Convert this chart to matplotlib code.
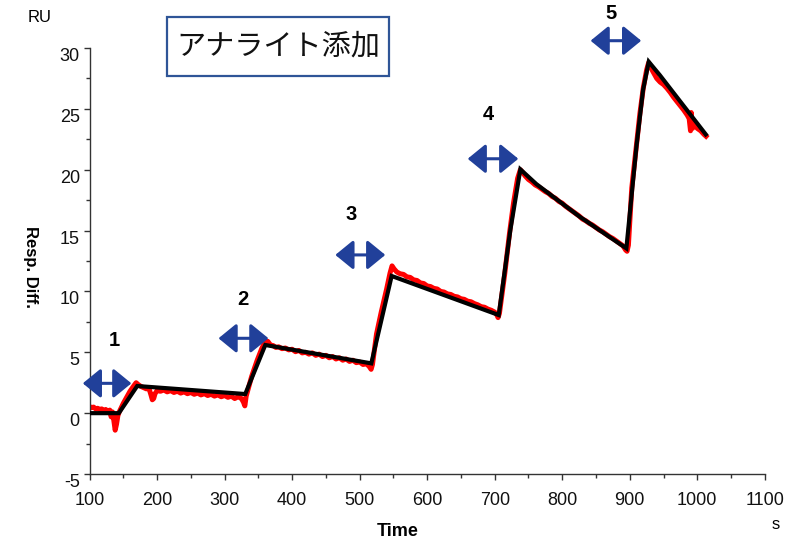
import matplotlib
matplotlib.use("Agg")
import matplotlib.pyplot as plt
from matplotlib.patches import FancyArrowPatch, Rectangle
from matplotlib.ticker import MultipleLocator

plt.rcParams['font.family'] = ['Liberation Sans', 'DejaVu Sans']

# Measured sensorgram (response difference, RU) vs. time (s)
meas_t = [100, 103, 106, 109, 112, 115, 118, 121, 124, 127, 130, 132, 134, 136, 138, 140, 142, 144,
          150, 155, 160, 165, 169, 172, 176, 180, 184, 188, 191, 193, 195, 197, 200, 205, 210, 215,
          220, 225, 230, 235, 240, 245, 250, 255, 260, 265, 270, 275, 280, 285, 290, 295, 300, 305,
          310, 315, 320, 325, 328, 330, 332,
          340, 348, 355, 360, 364, 368, 372, 376, 380, 385, 390, 395, 400, 405, 410, 415, 420, 425,
          430, 435, 440, 445, 450, 455, 460, 465, 470, 475, 480, 485, 490, 495, 500, 505, 510, 514,
          517, 519,
          525, 532, 540, 545, 548, 551, 555, 560, 565, 570, 575, 580, 585, 590, 595, 600, 605, 610,
          615, 620, 625, 630, 635, 640, 645, 650, 655, 660, 665, 670, 675, 680, 685, 690, 695, 700,
          703, 705, 707,
          715, 722, 728, 734, 738, 741, 745, 750, 755, 760, 765, 770, 775, 780, 785, 790, 795, 800,
          805, 810, 815, 820, 825, 830, 835, 840, 845, 850, 855, 860, 865, 870, 875, 880, 885, 890,
          894, 896, 898,
          903, 910, 915, 920, 925, 928, 931, 935, 940, 945, 950, 955, 960, 965, 970, 975, 980, 985,
          988, 990, 991, 993, 995, 1000, 1005, 1010, 1013]
meas_ru = [0.55, 0.45, 0.5, 0.35, 0.4, 0.3, 0.35, 0.2, 0.3, 0.15, 0.25, -0.3, 0.1, -0.6, -1.4, -0.9, -0.2, 0.1,
           0.8, 1.3, 1.8, 2.2, 2.5, 2.35, 2.2, 2.1, 2.0, 2.05, 1.5, 1.1, 1.2, 1.6, 1.85, 1.8, 1.9, 1.75,
           1.85, 1.7, 1.8, 1.65, 1.75, 1.6, 1.7, 1.55, 1.65, 1.5, 1.6, 1.45, 1.55, 1.4, 1.5, 1.35, 1.45, 1.3,
           1.4, 1.2, 1.35, 1.2, 0.9, 0.6, 1.4,
           3.0, 4.3, 5.3, 5.85, 5.9, 5.6, 5.55, 5.4, 5.45, 5.3, 5.35, 5.2, 5.25, 5.05, 5.15, 4.95, 5.0, 4.85,
           4.95, 4.75, 4.85, 4.65, 4.75, 4.55, 4.65, 4.45, 4.55, 4.35, 4.45, 4.25, 4.35, 4.15, 4.2, 4.0, 4.05, 3.85,
           3.6, 4.0,
           6.5, 8.3, 10.2, 11.5, 12.1, 11.85, 11.6, 11.45, 11.4, 11.2, 11.15, 10.95, 10.9, 10.7, 10.65, 10.45, 10.4, 10.25,
           10.2, 10.0, 9.95, 9.8, 9.75, 9.6, 9.55, 9.4, 9.35, 9.2, 9.15, 9.0, 8.9, 8.75, 8.7, 8.55, 8.45, 8.3,
           8.1, 7.85, 8.2,
           11.5, 14.8, 17.3, 19.3, 20.0, 19.8, 19.5, 19.2, 19.0, 18.75, 18.6, 18.4, 18.2, 18.05, 17.8, 17.65, 17.4, 17.25,
           17.0, 16.8, 16.6, 16.4, 16.2, 15.95, 15.8, 15.6, 15.45, 15.25, 15.05, 14.9, 14.7, 14.5, 14.35, 14.15, 13.95, 13.75,
           13.4, 13.3, 13.8,
           18.5, 22.1, 24.6, 26.7, 28.2, 28.8, 28.4, 28.0, 27.5, 27.2, 27.0, 26.7, 26.35, 25.95, 25.6, 25.25, 24.9, 24.5,
           24.2, 23.2, 24.7, 23.4, 23.8, 23.4, 23.2, 22.9, 22.75]

# Fitted kinetic curve
fit_t = [100, 143.4, 170.6, 330.6, 360.3, 517.3, 547.4, 706, 723.2, 738, 761.7, 825.9, 895,
         909.9, 919.7, 928.1, 944.4, 1012.6]
fit_ru = [0.0, 0.0, 2.23, 1.57, 5.6, 4.09, 11.27, 8.06, 15.05, 20.03, 18.82, 16.14, 13.54,
          21.9, 26.55, 28.87, 27.78, 22.9]

# Analyte injections: labels, arrow extents (s) and arrow heights (RU)
inj_labels = ['1', '2', '3', '4', '5']
inj_start = [90, 291, 464, 660, 842]
inj_end = [162, 365, 538, 735, 917]
inj_level = [2.45, 6.15, 13.0, 20.9, 30.6]
label_t = [136, 327, 487, 690, 872]
label_ru = [6.0, 9.3, 16.3, 24.5, 32.8]

xticks = [100, 200, 300, 400, 500, 600, 700, 800, 900, 1000, 1100]
yticks = [-5, 0, 5, 10, 15, 20, 25, 30]

arrow_color = '#21409A'

fig = plt.figure(figsize=(8, 5.4), dpi=100)
ax = fig.add_axes([0.1119, 0.1222, 0.956 - 0.1119, 0.9111 - 0.1222])

ax.plot(meas_t, meas_ru, color='#FF0000', lw=3.6, solid_joinstyle='round', zorder=2)
ax.plot(fit_t, fit_ru, color='black', lw=3.0, solid_joinstyle='miter', zorder=3)

ax.set_xlim(100, 1100)
ax.set_ylim(-5, 30)
ax.set_xticks(xticks)
ax.set_yticks(yticks)
ax.set_xticklabels([str(v) for v in xticks])
ax.set_yticklabels([str(v) for v in yticks])
ax.xaxis.set_minor_locator(MultipleLocator(50))
ax.yaxis.set_minor_locator(MultipleLocator(2.5))

for side in ['top', 'right']:
    ax.spines[side].set_visible(False)
for side in ['left', 'bottom']:
    ax.spines[side].set_color('#333333')
    ax.spines[side].set_linewidth(1.0)

ax.tick_params(axis='both', which='major', length=4, width=1, color='#333333',
               labelsize=13, labelcolor='#111111', direction='out')
ax.tick_params(axis='both', which='minor', length=3, width=1, color='#333333', direction='out')
ax.tick_params(axis='x', which='major', pad=9)
ax.tick_params(axis='y', which='major', pad=3)
for lab in ax.get_yticklabels():
    lab.set_verticalalignment('top')

for x0, x1, y in zip(inj_start, inj_end, inj_level):
    arr = FancyArrowPatch((x0, y), (x1, y),
                          arrowstyle='<|-|>,head_length=11,head_width=9',
                          mutation_scale=1, lw=2.2, color=arrow_color,
                          shrinkA=0, shrinkB=0, clip_on=False, zorder=4)
    ax.add_patch(arr)
for lab, x, y in zip(inj_labels, label_t, label_ru):
    ax.text(x, y, lab, ha='center', va='center', fontsize=14.5, fontweight='bold',
            color='black', clip_on=False)

# Axis titles and units
fig.text(0.4975, 0.015, 'Time', ha='center', va='center', fontsize=13, fontweight='bold')
fig.text(0.0375, 0.505, 'Resp. Diff.', ha='center', va='center', fontsize=12,
         fontweight='bold', rotation=270)
fig.text(0.05, 0.967, 'RU', ha='center', va='center', fontsize=12)
fig.text(0.97, 0.028, 's', ha='center', va='center', fontsize=12)

# Boxed heading
fig.patches.append(Rectangle((0.209, 0.859), 0.486 - 0.209, 0.9685 - 0.859,
                             transform=fig.transFigure, fill=False,
                             edgecolor='#2F5597', lw=1.6))
fig.text(0.3475, 0.913, 'アナライト添加', ha='center', va='center', fontsize=21,
         family=['Noto Sans CJK JP', 'DejaVu Sans'], color='#111111')

fig.savefig('out.png', dpi=100)
